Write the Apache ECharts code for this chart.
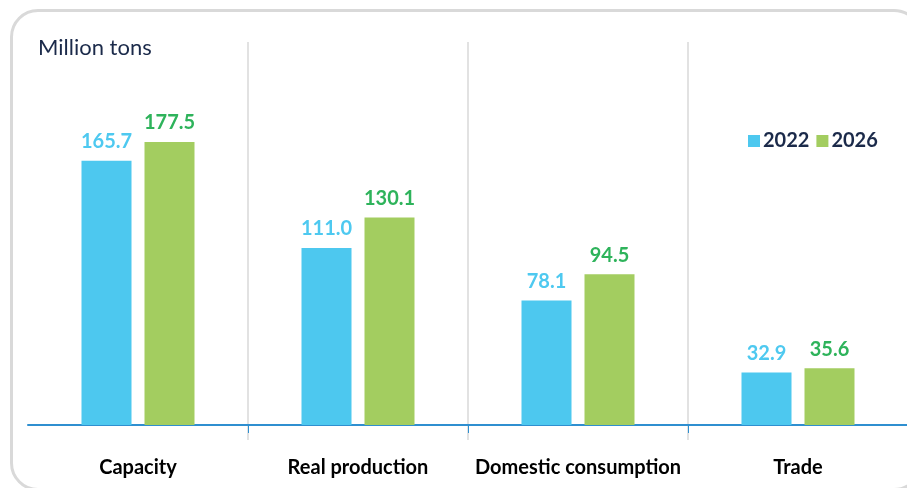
<!DOCTYPE html>
<html><head><meta charset="utf-8">
<script src="https://cdn.jsdelivr.net/npm/echarts@6/dist/echarts.min.js"></script>
<style>
html,body{margin:0;padding:0;background:#fff;overflow:hidden;width:907px;height:488px;}
#wrap{position:relative;width:907px;height:488px;overflow:hidden;}
#c{position:absolute;left:0;top:0;width:907px;height:488px;}
#card{position:absolute;left:10px;top:9px;width:912px;height:482px;border:3px solid #d9d9d9;border-radius:28px;box-sizing:border-box;pointer-events:none;}
</style>
</head><body><div id="wrap"><div id="card"></div><div id="c"></div></div>
<script>
const categories = ['Capacity', 'Real production', 'Domestic consumption', 'Trade'];
const values2022 = [165.7, 111.0, 78.1, 32.9];
const values2026 = [177.5, 130.1, 94.5, 35.6];
const seriesNames = ['2022', '2026'];
const unitLabel = 'Million tons';

const FONT = 'Lato, "Liberation Sans", sans-serif';
const inner = function (i) { return i > 0 && i < categories.length; };
const chart = echarts.init(document.getElementById('c'), null, {renderer: 'canvas'});
chart.setOption({
  animation: false,
  backgroundColor: 'transparent',
  graphic: [
    {type: 'text', left: 38, top: 37, style: {text: unitLabel, font: '22px ' + FONT, fill: '#1b2a4a'}}
  ],
  legend: {
    data: seriesNames, left: 743, top: 126, itemWidth: 12, itemHeight: 12, itemGap: 7,
    icon: 'rect',
    textStyle: {fontFamily: FONT, fontWeight: 'bold', fontSize: 20, color: '#1b2a4a', padding: [0, 0, 0, -2]}
  },
  grid: [
    {left: 28, right: -1, top: 106, bottom: 63, outerBoundsMode: 'none', containLabel: false},
    {left: 28, right: -1, top: 42, bottom: 48, outerBoundsMode: 'none', containLabel: false}
  ],
  xAxis: [
    {type: 'category', gridIndex: 0, data: categories,
     axisLine: {lineStyle: {color: '#2f8fd0', width: 2}},
     axisTick: {show: true, length: 8, interval: inner, lineStyle: {color: '#2f8fd0'}},
     axisLabel: {interval: 0, margin: 33, fontFamily: FONT, fontWeight: 'bold', fontSize: 20, color: '#000'},
     splitLine: {show: false}},
    {type: 'category', gridIndex: 1, data: categories,
     axisLine: {show: false}, axisTick: {show: false}, axisLabel: {show: false},
     splitLine: {show: true, interval: inner, lineStyle: {color: '#d9d9d9', width: 1.5}}}
  ],
  yAxis: [
    {type: 'value', gridIndex: 0, min: 0, max: 200, show: false},
    {type: 'value', gridIndex: 1, show: false}
  ],
  series: [
    {name: seriesNames[0], type: 'bar', data: values2022, barWidth: 50, barGap: '26%',
     itemStyle: {color: '#4dc8ef'},
     label: {show: true, position: 'top', distance: 9, formatter: p => p.value.toFixed(1),
             fontFamily: FONT, fontWeight: 'bold', fontSize: 20, color: '#4ec9f0'}},
    {name: seriesNames[1], type: 'bar', data: values2026, barWidth: 50,
     itemStyle: {color: '#a3cd60'},
     label: {show: true, position: 'top', distance: 9, formatter: p => p.value.toFixed(1),
             fontFamily: FONT, fontWeight: 'bold', fontSize: 20, color: '#2eb35b'}}
  ]
});
</script></body></html>
